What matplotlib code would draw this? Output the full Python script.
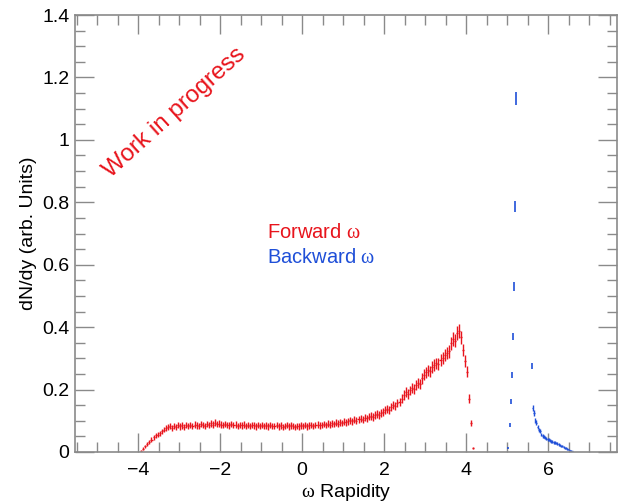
import numpy as np
import matplotlib
matplotlib.use("Agg")
import matplotlib.pyplot as plt
from matplotlib.ticker import MultipleLocator, FuncFormatter

plt.rcParams['font.family'] = ['Liberation Sans', 'DejaVu Sans']
plt.rcParams['mathtext.fontset'] = 'custom'
plt.rcParams['mathtext.rm'] = 'Liberation Serif'
plt.rcParams['mathtext.it'] = 'Liberation Serif'

# forward omega histogram, 0.05 wide bins starting at -3.95
fwd_lo = -3.95
fwd_bw = 0.05
fwd_rise = [0.004, 0.011, 0.018, 0.025, 0.033, 0.040, 0.047, 0.053, 0.056, 0.060, 0.066, 0.072, 0.077]
fwd_plat1 = [0.080, 0.083, 0.078, 0.084, 0.081, 0.086, 0.082, 0.085, 0.080, 0.087, 0.083, 0.086, 0.084,
             0.088, 0.085, 0.083, 0.089, 0.086, 0.084, 0.090, 0.087, 0.092, 0.088, 0.094, 0.089, 0.091]
fwd_plat2 = [0.088, 0.086, 0.090, 0.087, 0.085, 0.089, 0.086, 0.088, 0.084, 0.087, 0.085, 0.088, 0.083,
             0.086, 0.084, 0.087, 0.085, 0.082, 0.086, 0.084, 0.087, 0.083, 0.085, 0.082, 0.086, 0.084]
fwd_plat3 = [0.083, 0.086, 0.082, 0.085, 0.081, 0.084, 0.086, 0.082, 0.085, 0.083, 0.080, 0.084,
             0.082, 0.085, 0.083, 0.086, 0.082, 0.085, 0.087, 0.084, 0.086, 0.088, 0.085, 0.087]
fwd_up = [0.089, 0.087, 0.091, 0.088, 0.092, 0.090, 0.094, 0.091, 0.095, 0.093,
          0.097, 0.095, 0.099, 0.101, 0.098, 0.103, 0.100, 0.105, 0.107, 0.104,
          0.110, 0.108, 0.113, 0.116, 0.112, 0.119, 0.122, 0.118, 0.126, 0.129,
          0.134, 0.139, 0.136, 0.145, 0.150, 0.147, 0.157, 0.160, 0.171, 0.183,
          0.192, 0.186, 0.197, 0.204, 0.201, 0.214, 0.221, 0.218, 0.236, 0.247,
          0.255, 0.262, 0.258, 0.272, 0.279, 0.284, 0.281, 0.296, 0.302, 0.310,
          0.318, 0.322, 0.348, 0.362, 0.356, 0.381, 0.388]
fwd_drop = [0.368, 0.327, 0.292, 0.257, 0.170, 0.093, 0.012]
fwd_y = np.array(fwd_rise + fwd_plat1 + fwd_plat2 + fwd_plat3 + fwd_up + fwd_drop)
fwd_x = fwd_lo + fwd_bw * (np.arange(len(fwd_y)) + 0.5)

# backward omega: isolated spikes + tail
bwd_spike_x = [5.02, 5.06, 5.09, 5.11, 5.14, 5.16, 5.20, 5.22, 5.60]
bwd_spike_y = [0.013, 0.087, 0.161, 0.247, 0.370, 0.530, 0.786, 1.133, 0.276]
bwd_lo = 5.61
bwd_bw = 0.03
bwd_tail = [0.140, 0.125, 0.100, 0.094, 0.080, 0.071, 0.066, 0.056, 0.051, 0.049, 0.046,
            0.043, 0.041, 0.039, 0.037, 0.035, 0.033, 0.031, 0.030, 0.029, 0.027, 0.024,
            0.022, 0.020, 0.018, 0.016, 0.014, 0.012, 0.010, 0.008, 0.006, 0.004, 0.003]
bwd_tail_y = np.array(bwd_tail)
bwd_tail_x = bwd_lo + bwd_bw * (np.arange(len(bwd_tail_y)) + 0.5)

red = '#e8141c'
blue = '#1f4fd8'
gray = '#8a8a8a'

fig = plt.figure(figsize=(6.18, 5.04), dpi=100)
ax = fig.add_axes([0.1214, 0.1032, 0.8770, 0.8670])

ax.errorbar(fwd_x, fwd_y, yerr=0.035 * np.sqrt(fwd_y), xerr=fwd_bw / 2,
            fmt='none', ecolor=red, elinewidth=1.0)
ax.errorbar(bwd_spike_x, bwd_spike_y, yerr=0.02 * np.sqrt(bwd_spike_y),
            fmt='none', ecolor=blue, elinewidth=1.2)
ax.errorbar(bwd_tail_x, bwd_tail_y, yerr=0.025 * np.sqrt(bwd_tail_y), xerr=bwd_bw / 2,
            fmt='none', ecolor=blue, elinewidth=1.0)

ax.set_xlim(-5.54, 7.68)
ax.set_ylim(0, 1.4)
ax.xaxis.set_major_locator(MultipleLocator(2))
ax.xaxis.set_minor_locator(MultipleLocator(0.5))
ax.yaxis.set_major_locator(MultipleLocator(0.2))
ax.yaxis.set_minor_locator(MultipleLocator(0.05))
ax.yaxis.set_major_formatter(FuncFormatter(lambda v, p: '%g' % round(v, 3)))
ax.xaxis.set_major_formatter(FuncFormatter(lambda v, p: ('%g' % v).replace('-', '\u2212')))

for s in ax.spines.values():
    s.set_color(gray)
    s.set_linewidth(1.2)
ax.tick_params(which='both', direction='in', top=True, right=True, color=gray,
               labelsize=14, width=1.0)
ax.tick_params(which='major', length=14)
ax.tick_params(which='minor', length=7)
ax.tick_params(axis='x', pad=7)
ax.tick_params(axis='y', pad=4)

ax.set_xlabel(r'$\omega$ Rapidity', fontsize=14)
ax.xaxis.set_label_coords(0.5, -0.068)
ax.set_ylabel('dN/dy (arb. Units)', fontsize=14)
ax.yaxis.set_label_coords(-0.07, 0.5)

fig.text(0.283, 0.776, 'Work in progress', color=red, fontsize=17.5, rotation=42,
         ha='center', va='center')
fig.text(0.432, 0.538, r'Forward $\omega$', color=red, fontsize=14.5, va='center')
fig.text(0.432, 0.490, r'Backward $\omega$', color=blue, fontsize=14.5, va='center')

fig.savefig('out.png', dpi=100)
